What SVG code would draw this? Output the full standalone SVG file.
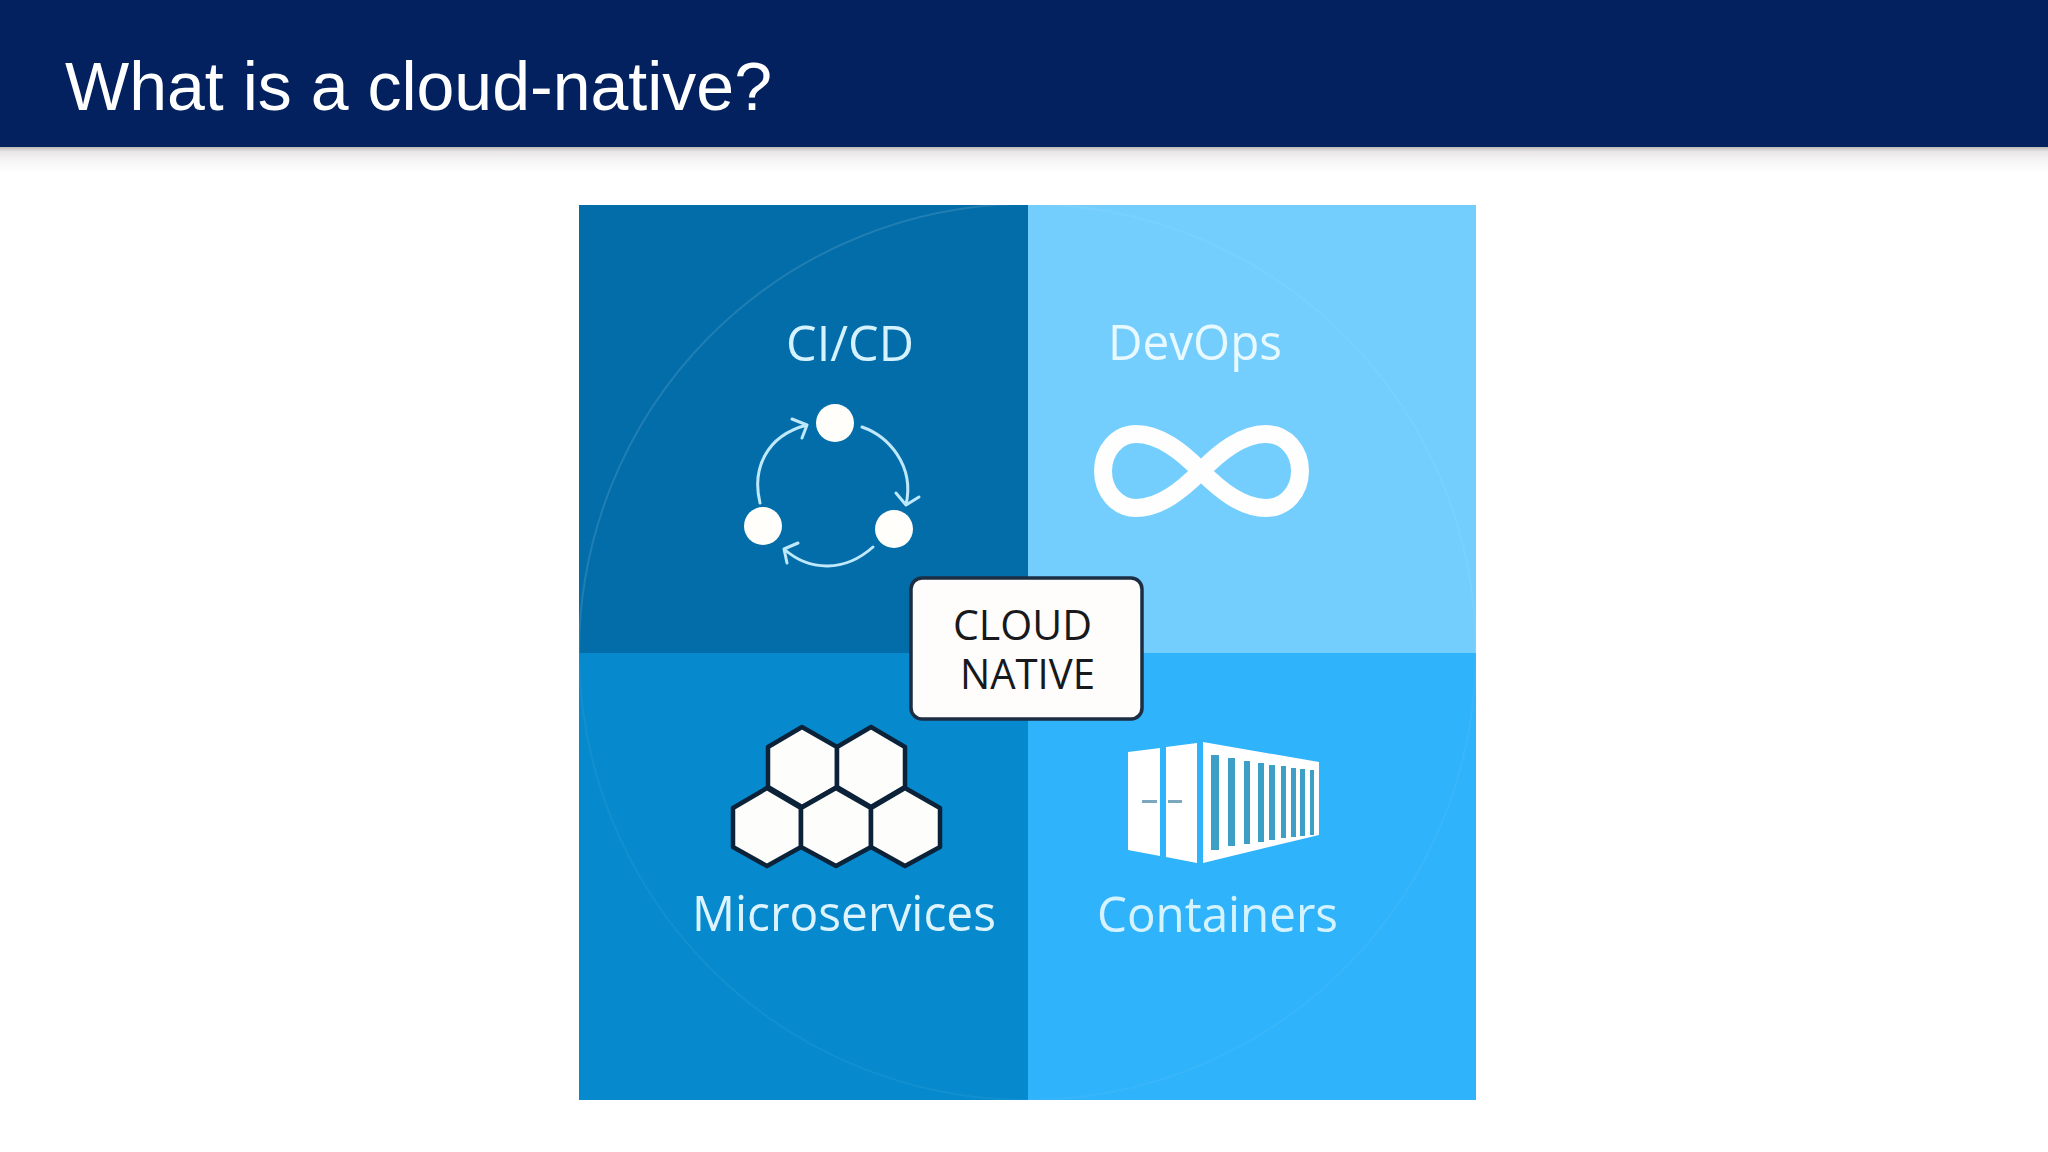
<svg xmlns="http://www.w3.org/2000/svg" width="2048" height="1152" viewBox="0 0 2048 1152">
<style>
.lbl{font-family:"Open Sans","Noto Sans",sans-serif;font-size:50px;font-weight:400}
.box{font-family:"Open Sans","Noto Sans",sans-serif;font-size:42px;fill:#17191c;font-weight:400}
.ring{fill:none;stroke:#fff;stroke-width:2}
.cyc{fill:none;stroke:#bfe8fb;stroke-width:3;stroke-linecap:round;stroke-linejoin:round}
.hex{fill:#fdfdfb;stroke:#0b2238;stroke-width:4.500;stroke-linejoin:round}
.slot{fill:#3d9fc6}
</style>
<defs>
<linearGradient id="sh" x1="0" y1="0" x2="0" y2="1">
<stop offset="0" stop-color="#bdb8b8"/><stop offset=".18" stop-color="#e9e7e7"/><stop offset=".5" stop-color="#f5f5f5"/><stop offset="1" stop-color="#ffffff"/>
</linearGradient>
</defs>
<rect width="2048" height="1152" fill="#fff"/>
<g id="header">
<rect y="147" width="2048" height="26" fill="url(#sh)"/>
<rect width="2048" height="147" fill="#03215f"/>
<text x="65" y="110" font-family="'Liberation Sans',Arial,sans-serif" font-size="68" fill="#fff" textLength="707" lengthAdjust="spacingAndGlyphs">What is a cloud-native?</text>
</g>
<g id="quadrants">
<rect x="579" y="205" width="449" height="448" fill="#026da9"/>
<rect x="1028" y="205" width="448" height="448" fill="#73cefe"/>
<rect x="579" y="653" width="449" height="447" fill="#068acd"/>
<rect x="1028" y="653" width="448" height="447" fill="#2fb3fa"/>
<path class="ring" opacity=".12" d="M579 653A449 449 0 0 1 1028 204"/>
<path class="ring" opacity=".05" d="M1028 204A449 449 0 0 1 1476 653"/>
<path class="ring" opacity=".05" d="M1476 653A449 449 0 0 1 1028 1100"/>
<path class="ring" opacity=".05" d="M1028 1100A449 449 0 0 1 579 653"/>
</g>
<g id="cicd">
<text class="lbl" x="786" y="361" fill="#d5f2ff" textLength="128" lengthAdjust="spacingAndGlyphs">CI/CD</text>
<circle cx="835" cy="423" r="19" fill="#fffefb"/>
<circle cx="763" cy="526" r="19" fill="#fffefb"/>
<circle cx="894" cy="529" r="19" fill="#fffefb"/>
</g>
<g id="connectors">
<path class="cyc" d="M862 427C888 436 915 465 906 505M896 493L906 505L919 497"/>
<path class="cyc" d="M760 503C752 470 765 436 807 425M792 419L807 425L802 438"/>
<path class="cyc" d="M873 547C845 572 810 572 784 549M798 543L784 549L787 563"/>
</g>
<g id="devops">
<text class="lbl" x="1108" y="360" fill="#e8f9ff" textLength="174" lengthAdjust="spacingAndGlyphs">DevOps</text>
<path fill="none" stroke="#fdfefd" stroke-width="18" d="M1201 471C1182 452 1160 434 1136 434C1117 434 1103 451 1103 471C1103 491 1117 508 1136 508C1160 508 1182 490 1201 471C1220 452 1242 434 1266 434C1286 434 1300 451 1300 471C1300 491 1286 508 1266 508C1242 508 1220 490 1201 471Z"/>
</g>
<g id="microservices">
<polygon class="hex" points="802,727 837,747 837,787 802,807 768,787 768,747"/>
<polygon class="hex" points="871,727 905,747 905,787 871,807 837,787 837,747"/>
<polygon class="hex" points="767,788 801,808 801,847 767,866 733,847 733,808"/>
<polygon class="hex" points="836,788 871,808 871,847 836,866 801,847 801,808"/>
<polygon class="hex" points="905,788 940,808 940,847 905,866 871,847 871,808"/>
<text class="lbl" x="692" y="931" fill="#ddf4ff" textLength="304" lengthAdjust="spacingAndGlyphs">Microservices</text>
</g>
<g id="containers">
<polygon fill="#fff" points="1128,752 1160,748 1160,856 1128,850"/>
<polygon fill="#fff" points="1166,747 1197,743 1197,863 1166,857"/>
<polygon fill="#fff" points="1203,742 1319,762 1319,835 1203,863"/>
<rect class="slot" x="1211" y="755" width="8" height="95"/>
<rect class="slot" x="1228" y="758" width="7" height="88"/>
<rect class="slot" x="1244" y="761" width="6" height="83"/>
<rect class="slot" x="1258" y="763" width="6" height="79"/>
<rect class="slot" x="1269" y="765" width="6" height="75"/>
<rect class="slot" x="1281" y="766" width="5" height="72"/>
<rect class="slot" x="1291" y="768" width="5" height="69"/>
<rect class="slot" x="1300" y="769" width="5" height="67"/>
<rect class="slot" x="1310" y="770" width="4" height="65"/>
<rect x="1142" y="800" width="15" height="3" fill="#7aa9bf"/>
<rect x="1168" y="800" width="14" height="3" fill="#7aa9bf"/>
<text class="lbl" x="1097" y="932" fill="#d5f3ff" textLength="241" lengthAdjust="spacingAndGlyphs">Containers</text>
</g>
<g id="cloud-native">
<rect x="911" y="578" width="231" height="141" rx="11" fill="#fefdfb" stroke="#1c2e44" stroke-width="3.500"/>
<text class="box" x="953" y="640" textLength="139" lengthAdjust="spacingAndGlyphs">CLOUD</text>
<text class="box" x="960" y="689" textLength="135" lengthAdjust="spacingAndGlyphs">NATIVE</text>
</g>
</svg>
